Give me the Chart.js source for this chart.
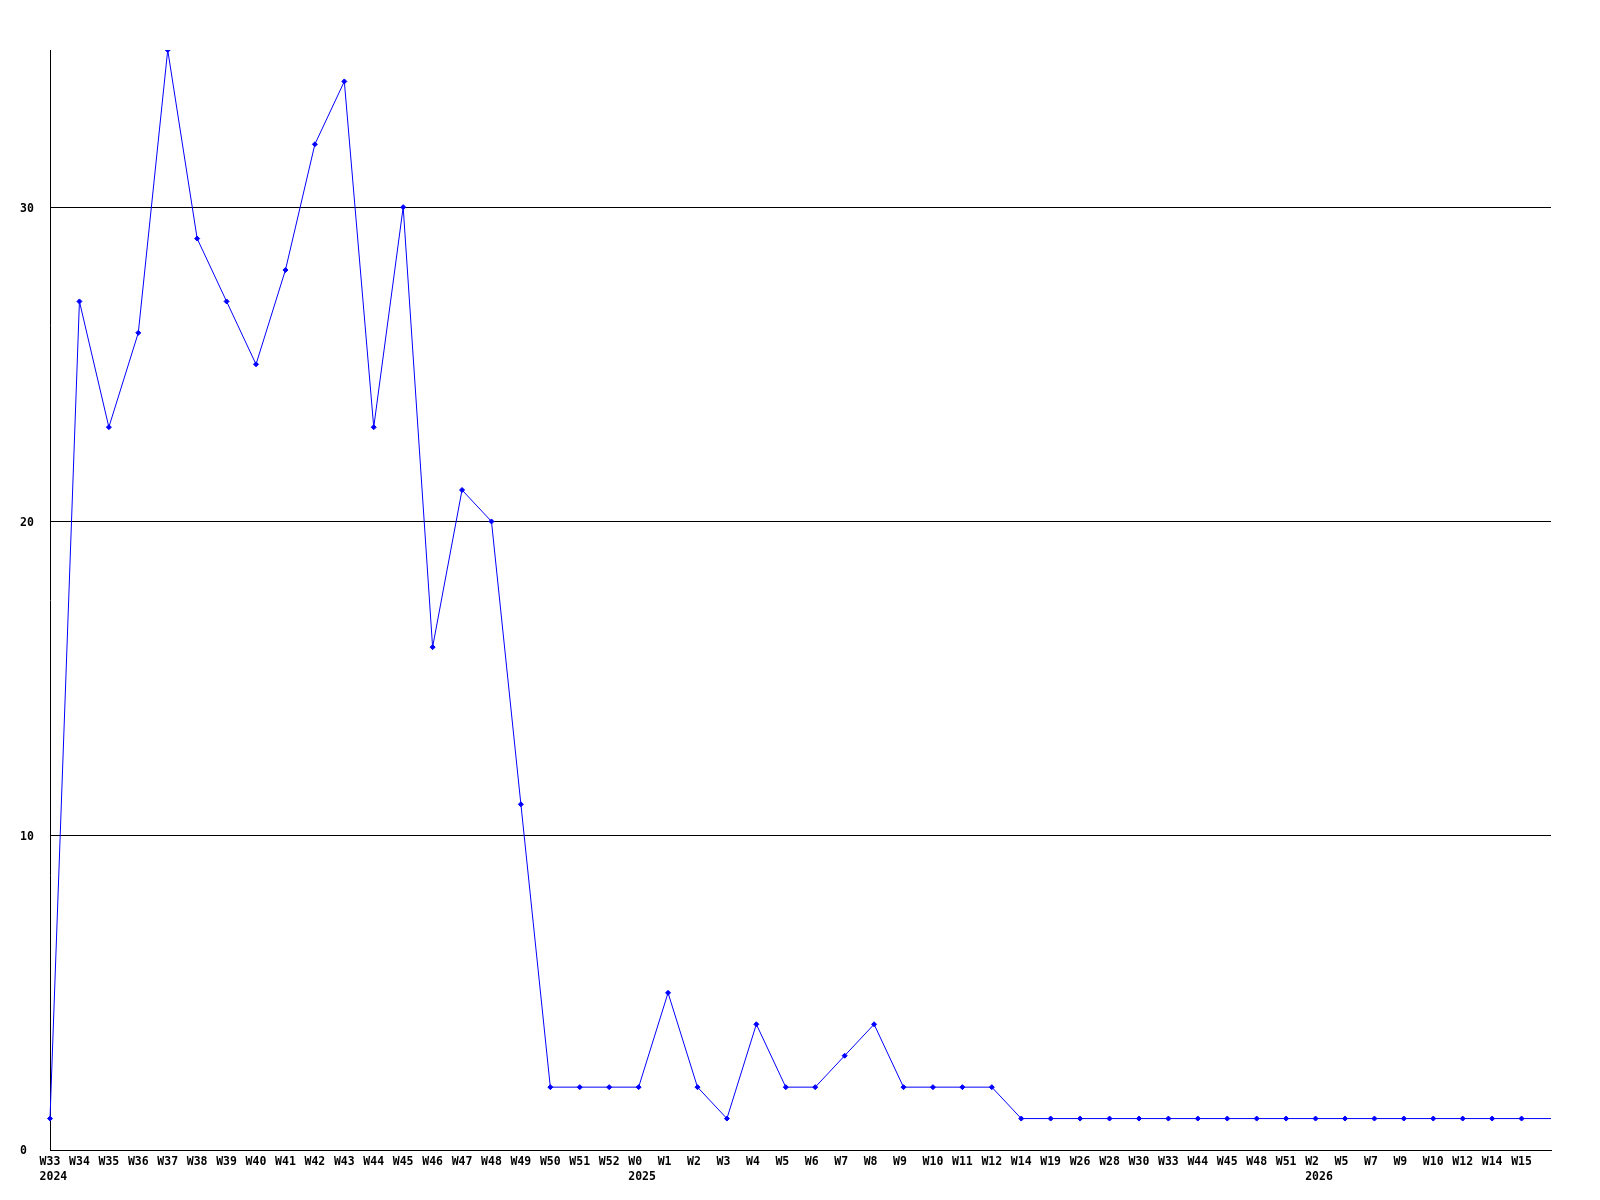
<!DOCTYPE html>
<html>
<head>
<meta charset="utf-8">
<title>Weekly count</title>
<script src="https://cdn.jsdelivr.net/npm/chart.js@4/dist/chart.umd.min.js"></script>
<style>
  html, body { margin: 0; padding: 0; background: #fff; }
</style>
</head>
<body>
<canvas id="chart" width="1600" height="1200"></canvas>
<script>
// week labels along the x axis (last slot is the current, unlabeled week)
const weeks = [
    'W33', 'W34', 'W35', 'W36', 'W37', 'W38', 'W39', 'W40', 'W41', 'W42',
    'W43', 'W44', 'W45', 'W46', 'W47', 'W48', 'W49', 'W50', 'W51', 'W52',
    'W0', 'W1', 'W2', 'W3', 'W4', 'W5', 'W6', 'W7', 'W8', 'W9',
    'W10', 'W11', 'W12', 'W14', 'W19', 'W26', 'W28', 'W30', 'W33', 'W44',
    'W45', 'W48', 'W51', 'W2', 'W5', 'W7', 'W9', 'W10', 'W12', 'W14',
    'W15', ''
];
const years = [
    '2024', '2024', '2024', '2024', '2024', '2024', '2024', '2024', '2024', '2024',
    '2024', '2024', '2024', '2024', '2024', '2024', '2024', '2024', '2024', '2024',
    '2025', '2025', '2025', '2025', '2025', '2025', '2025', '2025', '2025', '2025',
    '2025', '2025', '2025', '2025', '2025', '2025', '2025', '2025', '2025', '2025',
    '2025', '2025', '2025', '2026', '2026', '2026', '2026', '2026', '2026', '2026',
    '2026', '2026'
];
const counts = [
    1, 27, 23, 26, 35, 29, 27, 25, 28, 32,
    34, 23, 30, 16, 21, 20, 11, 2, 2, 2,
    2, 5, 2, 1, 4, 2, 2, 3, 4, 2,
    2, 2, 2, 1, 1, 1, 1, 1, 1, 1,
    1, 1, 1, 1, 1, 1, 1, 1, 1, 1,
    1, 1
];
const yTicks = [0, 10, 20, 30];
const yMax = 35;

const tickFont = { family: '"DejaVu Sans Mono", monospace', size: 11.5, weight: 'bold' };
const labelShift = -10.4; // week labels start a little left of their point

// year written under the first week of each year, left-aligned with that week's label
const yearRow = {
    id: 'yearRow',
    afterDraw(chart) {
        const xs = chart.scales.x;
        const ctx = chart.ctx;
        ctx.save();
        ctx.font = `bold ${tickFont.size}px ${tickFont.family}`;
        ctx.fillStyle = '#000';
        ctx.textAlign = 'left';
        ctx.textBaseline = 'middle';
        years.forEach((yr, i) => {
            if (i > 0 && years[i - 1] === yr) return;
            const px = xs.getPixelForValue(i);
            ctx.fillText(yr, px + labelShift, xs.top + 27);
        });
        ctx.restore();
    }
};

const ctx = document.getElementById('chart').getContext('2d');
new Chart(ctx, {
    type: 'line',
    data: {
        labels: weeks,
        datasets: [{
            data: counts,
            borderColor: '#0000ff',
            backgroundColor: '#0000ff',
            borderWidth: 1,
            tension: 0,
            fill: false,
            pointStyle: 'rectRot',
            pointRadius: counts.map((v, i) => weeks[i] === '' ? 0 : 2.5),
            pointBorderWidth: 1
        }]
    },
    options: {
        responsive: false,
        animation: false,
        layout: { padding: { left: 20, top: 50, right: 49, bottom: 0 } },
        plugins: {
            legend: { display: false },
            tooltip: { enabled: false }
        },
        scales: {
            x: {
                type: 'category',
                offset: false,
                grid: { display: false, drawTicks: false },
                border: { display: true, color: '#000', width: 1 },
                ticks: {
                    color: '#000',
                    font: tickFont,
                    autoSkip: false,
                    maxRotation: 0,
                    minRotation: 0,
                    align: 'start',
                    labelOffset: labelShift,
                    padding: 5
                },
                afterFit: s => { s.height = 50; }
            },
            y: {
                min: 0,
                max: yMax,
                grid: { color: '#000', lineWidth: 1, drawTicks: false },
                border: { display: true, color: '#000', width: 1 },
                ticks: {
                    color: '#000',
                    font: tickFont,
                    crossAlign: 'far',
                    labelOffset: 1.5,
                    padding: 16
                },
                afterBuildTicks: s => { s.ticks = yTicks.map(v => ({ value: v })); },
                afterFit: s => { s.width = 30; }
            }
        }
    },
    plugins: [yearRow]
});
</script>
</body>
</html>
